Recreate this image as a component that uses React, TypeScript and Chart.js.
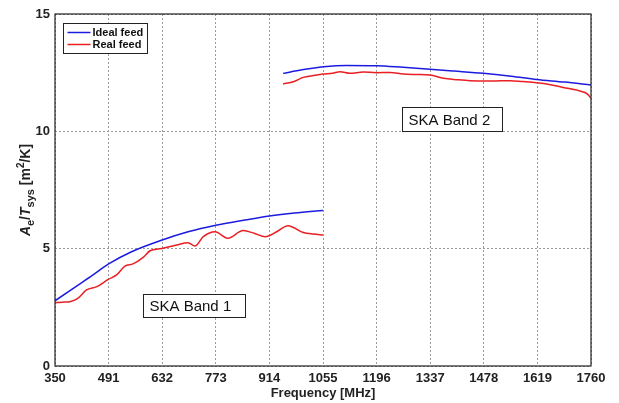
import React, { useEffect, useRef } from "react";
import { Chart, registerables } from "chart.js";

Chart.register(...registerables);

const xTicks = [350, 491, 632, 773, 914, 1055, 1196, 1337, 1478, 1619, 1760];
const yTicks = [0, 5, 10, 15];

const band1IdealFreq = [350, 400, 450, 491, 550, 632, 700, 773, 850, 914, 980, 1055];
const band1IdealVal = [2.78, 3.33, 3.88, 4.35, 4.86, 5.37, 5.72, 6.0, 6.22, 6.39, 6.52, 6.63];

const band1RealFreq = [350, 370, 389, 410, 433, 460, 490, 512, 534, 555, 582, 600, 631, 670, 700, 718, 740, 771, 805, 845, 875, 903, 933, 963, 1003, 1030, 1055];
const band1RealVal = [2.7, 2.72, 2.74, 2.88, 3.24, 3.38, 3.69, 3.88, 4.26, 4.35, 4.63, 4.91, 5.01, 5.16, 5.25, 5.11, 5.51, 5.72, 5.44, 5.77, 5.65, 5.51, 5.72, 5.98, 5.69, 5.62, 5.58];

const band2IdealFreq = [950, 1000, 1056, 1117, 1196, 1266, 1336, 1400, 1477, 1550, 1617, 1690, 1760];
const band2IdealVal = [12.47, 12.62, 12.75, 12.81, 12.8, 12.73, 12.65, 12.57, 12.47, 12.35, 12.21, 12.1, 11.97];

const band2RealFreq = [950, 977, 1003, 1030, 1056, 1080, 1100, 1126, 1161, 1196, 1231, 1266, 1300, 1336, 1372, 1410, 1442, 1477, 1510, 1547, 1580, 1617, 1650, 1687, 1731, 1750, 1760];
const band2RealVal = [12.02, 12.11, 12.3, 12.38, 12.44, 12.48, 12.54, 12.47, 12.53, 12.5, 12.51, 12.44, 12.42, 12.4, 12.26, 12.2, 12.16, 12.14, 12.15, 12.16, 12.12, 12.07, 12.0, 11.87, 11.72, 11.6, 11.41];

const seriesNames = ["Ideal feed", "Real feed"];
const bandLabels = ["SKA Band 1", "SKA Band 2"];

const BLUE = "#1c1ce0";
const RED = "#ea1f24";
const FONT = "'Liberation Sans', Arial, sans-serif";

const pts = (xs: number[], ys: number[]) => xs.map((x, i) => ({ x, y: ys[i] }));

const decorPlugin = {
  id: "decor",
  afterDatasetsDraw(chart: any) {
    const { ctx, chartArea, scales } = chart;
    const xs = scales.x;
    const ys = scales.y;
    ctx.save();
    const boxes = [
      { text: bandLabels[0], x0: 581, x1: 850, y0: 3.05, y1: 2.1 },
      { text: bandLabels[1], x0: 1264, x1: 1525, y0: 11.05, y1: 10.03 },
    ];
    ctx.font = `15px ${FONT}`;
    for (const b of boxes) {
      const px0 = Math.round(xs.getPixelForValue(b.x0)) + 0.5;
      const px1 = Math.round(xs.getPixelForValue(b.x1)) + 0.5;
      const py0 = Math.round(ys.getPixelForValue(b.y0)) + 0.5;
      const py1 = Math.round(ys.getPixelForValue(b.y1)) + 0.5;
      ctx.fillStyle = "#fff";
      ctx.fillRect(px0, py0, px1 - px0, py1 - py0);
      ctx.strokeStyle = "#222";
      ctx.lineWidth = 1;
      ctx.strokeRect(px0, py0, px1 - px0, py1 - py0);
      ctx.fillStyle = "#111";
      ctx.textBaseline = "middle";
      ctx.textAlign = "left";
      ctx.fillText(b.text, px0 + 6, (py0 + py1) / 2 + 1);
    }
    const lx = chartArea.left + 8.5;
    const ly = chartArea.top + 9.5;
    const lw = 84;
    const lh = 30;
    ctx.fillStyle = "#fff";
    ctx.fillRect(lx, ly, lw, lh);
    ctx.strokeStyle = "#222";
    ctx.lineWidth = 1;
    ctx.strokeRect(lx, ly, lw, lh);
    ctx.font = `bold 11px ${FONT}`;
    ctx.textBaseline = "middle";
    ctx.textAlign = "left";
    const cols = [BLUE, RED];
    for (let i = 0; i < 2; i++) {
      const yy = ly + 9 + i * 12;
      ctx.strokeStyle = cols[i];
      ctx.lineWidth = 1.5;
      ctx.beginPath();
      ctx.moveTo(lx + 4, yy);
      ctx.lineTo(lx + 27, yy);
      ctx.stroke();
      ctx.fillStyle = "#111";
      ctx.fillText(seriesNames[i], lx + 29, yy + 0.5);
    }
    ctx.restore();
  },
  afterDraw(chart: any) {
    const { ctx, chartArea } = chart;
    ctx.save();
    ctx.strokeStyle = "#222";
    ctx.lineWidth = 1.2;
    ctx.strokeRect(chartArea.left, chartArea.top, chartArea.right - chartArea.left, chartArea.bottom - chartArea.top);
    ctx.fillStyle = "#222";
    ctx.font = `bold 13px ${FONT}`;
    ctx.textAlign = "center";
    ctx.textBaseline = "middle";
    ctx.fillText("Frequency [MHz]", (chartArea.left + chartArea.right) / 2, 393);
    const segs = [
      { t: "A", f: `italic bold 14px ${FONT}`, dy: 0 },
      { t: "e", f: `bold 11px ${FONT}`, dy: 4 },
      { t: "/", f: `bold 14px ${FONT}`, dy: 0 },
      { t: "T", f: `italic bold 14px ${FONT}`, dy: 0 },
      { t: "sys", f: `bold 11px ${FONT}`, dy: 4 },
      { t: " [m", f: `bold 14px ${FONT}`, dy: 0 },
      { t: "2", f: `bold 10px ${FONT}`, dy: -6 },
      { t: "/K]", f: `bold 14px ${FONT}`, dy: 0 },
    ];
    let total = 0;
    const widths = segs.map((s) => {
      ctx.font = s.f;
      const w = ctx.measureText(s.t).width;
      total += w;
      return w;
    });
    const cy = (chartArea.top + chartArea.bottom) / 2;
    ctx.translate(30, cy);
    ctx.rotate(-Math.PI / 2);
    ctx.textAlign = "left";
    ctx.textBaseline = "alphabetic";
    let x = -total / 2;
    segs.forEach((s, i) => {
      ctx.font = s.f;
      ctx.fillText(s.t, x, s.dy);
      x += widths[i];
    });
    ctx.restore();
  },
};

export default function App() {
  const ref = useRef<HTMLCanvasElement | null>(null);
  useEffect(() => {
    document.body.style.margin = "0";
    const canvas = ref.current!;
    const chart = new Chart(canvas, {
      type: "scatter",
      data: {
        datasets: [
          { label: seriesNames[0], data: pts(band1IdealFreq, band1IdealVal), borderColor: BLUE },
          { label: seriesNames[1], data: pts(band1RealFreq, band1RealVal), borderColor: RED },
          { label: seriesNames[0] + " 2", data: pts(band2IdealFreq, band2IdealVal), borderColor: BLUE },
          { label: seriesNames[1] + " 2", data: pts(band2RealFreq, band2RealVal), borderColor: RED },
        ].map((d) => ({
          ...d,
          showLine: true,
          pointRadius: 0,
          borderWidth: 1.5,
          cubicInterpolationMode: "monotone" as const,
          fill: false,
        })),
      },
      options: {
        animation: false,
        responsive: false,
        layout: { padding: { left: 0, right: 28, top: 14, bottom: 0 } },
        plugins: { legend: { display: false }, tooltip: { enabled: false } },
        scales: {
          x: {
            type: "linear",
            min: 350,
            max: 1760,
            afterBuildTicks: (s: any) => {
              s.ticks = xTicks.map((v) => ({ value: v }));
            },
            afterFit: (s: any) => {
              s.height = 37;
            },
            ticks: {
              padding: 5,
              color: "#222",
              font: { family: FONT, size: 13, weight: "bold" },
              callback: (v: any) => String(v),
              maxRotation: 0,
              autoSkip: false,
            },
            grid: { color: "#9a9a9a", lineWidth: 1, drawTicks: false },
            border: { display: false, dash: [2, 2] },
          },
          y: {
            type: "linear",
            min: 0,
            max: 15,
            afterBuildTicks: (s: any) => {
              s.ticks = yTicks.map((v) => ({ value: v }));
            },
            afterFit: (s: any) => {
              s.width = 55;
            },
            ticks: {
              padding: 5,
              color: "#222",
              font: { family: FONT, size: 13, weight: "bold" },
              callback: (v: any) => String(v),
            },
            grid: { color: "#9a9a9a", lineWidth: 1, drawTicks: false },
            border: { display: false, dash: [2, 2] },
          },
        },
      },
      plugins: [decorPlugin],
    });
    return () => chart.destroy();
  }, []);
  return (
    <div style={{ width: 619, height: 403, background: "#fff" }}>
      <canvas ref={ref} width={619} height={403} style={{ display: "block" }} />
    </div>
  );
}
